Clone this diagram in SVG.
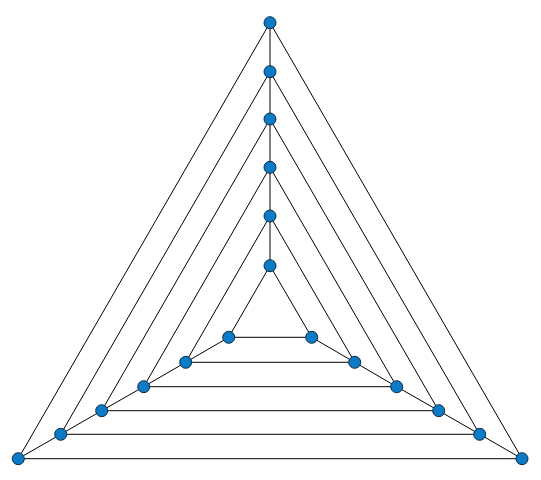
<svg xmlns="http://www.w3.org/2000/svg" width="541" height="480" viewBox="0 0 541 480">
<style>
.e{stroke:#000;stroke-width:1;fill:none}
.n{fill:#0b7bc8;stroke:#0d2a45;stroke-width:1}
</style>
<rect width="541" height="480" fill="#fff"/>
<g id="connectors" class="e">
<polygon points="270,22.7 18.3,458.7 522,458.7"/>
<polygon points="270,71.7 60.7,434.3 479.7,434.3"/>
<polygon points="270,119 101.7,410.7 438.7,410.7"/>
<polygon points="270,167.3 143.7,386.7 396.7,386.7"/>
<polygon points="270,216 185.7,362.3 354.7,362.3"/>
<polygon points="270,265.7 228.7,337.3 311.7,337.3"/>
<polyline points="270,22.7 270,265.7"/>
<polyline points="18.3,458.7 60.7,434.3 101.7,410.7 143.7,386.7 185.7,362.3 228.7,337.3"/>
<polyline points="522,458.7 479.7,434.3 438.7,410.7 396.7,386.7 354.7,362.3 311.7,337.3"/>
</g>
<g id="n0"><circle class="n" cx="270" cy="22.7" r="6"/></g>
<g id="n1"><circle class="n" cx="270" cy="71.7" r="6"/></g>
<g id="n2"><circle class="n" cx="270" cy="119" r="6"/></g>
<g id="n3"><circle class="n" cx="270" cy="167.3" r="6"/></g>
<g id="n4"><circle class="n" cx="270" cy="216" r="6"/></g>
<g id="n5"><circle class="n" cx="270" cy="265.7" r="6"/></g>
<g id="n6"><circle class="n" cx="18.3" cy="458.7" r="6"/></g>
<g id="n7"><circle class="n" cx="60.7" cy="434.3" r="6"/></g>
<g id="n8"><circle class="n" cx="101.7" cy="410.7" r="6"/></g>
<g id="n9"><circle class="n" cx="143.7" cy="386.7" r="6"/></g>
<g id="n10"><circle class="n" cx="185.7" cy="362.3" r="6"/></g>
<g id="n11"><circle class="n" cx="228.7" cy="337.3" r="6"/></g>
<g id="n12"><circle class="n" cx="522" cy="458.7" r="6"/></g>
<g id="n13"><circle class="n" cx="479.7" cy="434.3" r="6"/></g>
<g id="n14"><circle class="n" cx="438.7" cy="410.7" r="6"/></g>
<g id="n15"><circle class="n" cx="396.7" cy="386.7" r="6"/></g>
<g id="n16"><circle class="n" cx="354.7" cy="362.3" r="6"/></g>
<g id="n17"><circle class="n" cx="311.7" cy="337.3" r="6"/></g>
</svg>
